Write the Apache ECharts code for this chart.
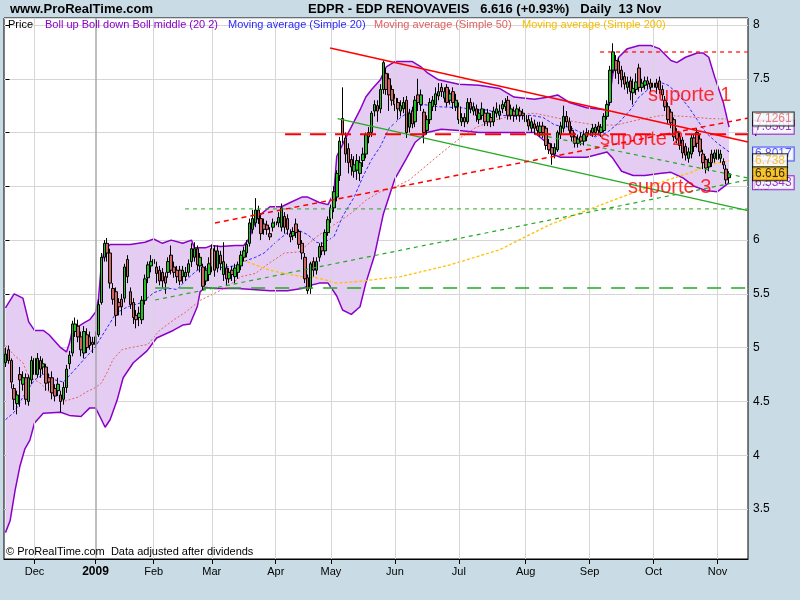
<!DOCTYPE html>
<html><head><meta charset="utf-8">
<script src="https://cdn.jsdelivr.net/npm/echarts@6.0.0/dist/echarts.min.js"></script>
<style>html,body{margin:0;padding:0;background:#C9DCE6;}#c{width:800px;height:600px;}</style>
</head><body><div id="c"></div>
<script>
// ---- candles (daily, 17 Nov 2008 .. 13 Nov 2009) ----
const opens = [
4.86,4.98,4.88,4.62,4.48,4.75,4.66,4.72,4.50,4.70,
4.75,4.75,4.88,4.82,4.82,4.72,4.72,4.62,4.60,4.56,
4.52,4.63,4.85,4.95,5.15,5.20,5.10,4.95,5.12,5.10,
5.05,5.03,5.12,5.42,5.84,5.97,5.88,5.55,5.52,5.42,
5.45,5.46,5.82,5.52,5.42,5.30,5.28,5.26,5.44,5.65,
5.76,5.78,5.75,5.72,5.70,5.66,5.70,5.86,5.75,5.72,
5.72,5.66,5.66,5.70,5.80,5.84,5.92,5.76,5.75,5.62,
5.68,5.92,5.90,5.74,5.86,5.68,5.74,5.64,5.72,5.66,
5.70,5.76,5.84,5.88,5.97,6.10,6.16,6.28,6.20,6.15,
6.14,6.06,6.12,6.14,6.16,6.12,6.22,6.20,6.06,6.04,
6.15,6.08,5.97,5.84,5.65,5.55,5.80,5.72,5.84,5.94,
5.90,6.07,6.20,6.30,6.40,6.60,7.13,6.95,6.85,6.75,
6.64,6.65,6.62,6.74,6.80,6.96,7.00,7.20,7.25,7.22,
7.40,7.55,7.50,7.40,7.32,7.28,7.20,7.22,7.30,7.05,
7.20,7.10,7.35,7.26,7.19,7.02,7.12,7.24,7.26,7.34,
7.42,7.32,7.42,7.30,7.38,7.24,7.24,7.10,7.14,7.10,
7.28,7.20,7.22,7.12,7.16,7.18,7.10,7.14,7.10,7.18,
7.16,7.22,7.24,7.30,7.16,7.20,7.16,7.20,7.18,7.16,
7.12,7.04,7.08,7.06,7.00,7.06,7.04,6.90,6.86,6.80,
6.84,6.98,7.04,7.15,7.10,7.02,6.96,6.90,6.96,6.92,
6.96,6.98,7.00,7.00,7.06,7.00,7.02,7.15,7.28,7.58,
7.67,7.66,7.58,7.52,7.42,7.48,7.37,7.40,7.60,7.42,
7.44,7.48,7.46,7.42,7.46,7.48,7.40,7.30,7.24,7.19,
7.12,7.00,6.96,6.93,6.87,6.76,6.80,6.95,7.00,6.94,
6.80,6.75,6.68,6.80,6.76,6.84,6.76,6.73,6.66,6.58];
const closes = [
4.94,4.88,4.68,4.52,4.56,4.70,4.72,4.52,4.72,4.88,
4.90,4.90,4.80,4.85,4.67,4.68,4.58,4.55,4.66,4.50,
4.63,4.80,4.93,5.22,5.22,5.10,4.98,5.15,5.00,5.02,
5.03,5.10,5.40,5.84,5.97,5.88,5.60,5.45,5.30,5.38,
5.38,5.75,5.66,5.40,5.28,5.26,5.32,5.44,5.64,5.77,
5.80,5.82,5.69,5.62,5.62,5.60,5.80,5.72,5.70,5.66,
5.62,5.72,5.70,5.78,5.92,5.92,5.77,5.84,5.57,5.72,
5.78,5.75,5.72,5.90,5.78,5.80,5.64,5.70,5.68,5.74,
5.77,5.86,5.90,5.96,6.16,6.20,6.28,6.20,6.06,6.10,
6.10,6.03,6.16,6.17,6.21,6.30,6.12,6.10,6.03,6.08,
6.07,5.96,5.88,5.64,5.53,5.78,5.72,5.80,5.94,5.90,
6.07,6.19,6.30,6.45,6.62,6.92,6.98,6.80,6.72,6.68,
6.70,6.74,6.72,6.80,6.98,7.00,7.18,7.26,7.20,7.40,
7.65,7.40,7.35,7.30,7.26,7.22,7.25,7.28,7.00,7.18,
7.08,7.30,7.28,7.35,7.00,7.12,7.28,7.30,7.36,7.38,
7.38,7.38,7.28,7.36,7.28,7.30,7.12,7.14,7.10,7.28,
7.22,7.24,7.16,7.18,7.22,7.10,7.18,7.10,7.20,7.22,
7.20,7.26,7.28,7.16,7.22,7.16,7.22,7.16,7.16,7.10,
7.06,7.10,7.04,7.02,7.06,7.00,6.88,6.84,6.80,6.86,
7.00,7.06,7.15,7.10,7.02,6.96,6.90,6.94,6.92,6.98,
7.00,7.02,7.04,7.05,7.02,7.05,7.15,7.26,7.58,7.75,
7.58,7.55,7.49,7.45,7.47,7.38,7.41,7.47,7.42,7.46,
7.48,7.45,7.42,7.46,7.42,7.40,7.35,7.24,7.12,7.09,
6.96,6.94,6.88,6.81,6.79,6.82,6.95,6.87,6.90,6.82,
6.72,6.67,6.72,6.72,6.81,6.75,6.80,6.70,6.56,6.616];
const lows = [
4.82,4.85,4.62,4.42,4.38,4.45,4.60,4.47,4.46,4.66,
4.70,4.72,4.72,4.75,4.60,4.60,4.52,4.50,4.55,4.40,
4.47,4.58,4.80,4.92,5.10,5.05,4.92,4.90,4.95,4.98,
4.95,5.00,5.10,5.40,5.80,5.80,5.55,5.40,5.20,5.30,
5.30,5.42,5.60,5.36,5.22,5.18,5.20,5.22,5.40,5.60,
5.70,5.72,5.60,5.58,5.55,5.50,5.65,5.68,5.65,5.60,
5.58,5.60,5.62,5.66,5.75,5.80,5.72,5.70,5.53,5.58,
5.62,5.70,5.66,5.70,5.72,5.62,5.58,5.60,5.62,5.60,
5.64,5.72,5.80,5.84,5.94,6.06,6.12,6.15,6.00,6.05,
6.05,6.00,6.08,6.10,6.12,6.08,6.06,6.05,5.98,6.00,
6.02,5.92,5.82,5.60,5.50,5.50,5.66,5.68,5.80,5.86,
5.86,6.04,6.16,6.26,6.36,6.55,6.90,6.72,6.62,6.60,
6.58,6.56,6.55,6.68,6.76,6.90,6.96,7.15,7.10,7.18,
7.36,7.35,7.20,7.25,7.20,7.12,7.15,7.18,6.95,7.00,
7.04,7.05,7.20,7.20,6.90,6.98,7.08,7.20,7.20,7.30,
7.33,7.28,7.24,7.26,7.22,7.20,7.08,7.06,7.05,7.08,
7.18,7.16,7.10,7.08,7.12,7.06,7.06,7.05,7.06,7.14,
7.12,7.18,7.20,7.12,7.12,7.10,7.12,7.10,7.12,7.06,
7.02,7.00,6.98,6.98,6.96,6.95,6.84,6.80,6.70,6.76,
6.82,6.94,7.00,7.05,6.98,6.92,6.86,6.86,6.88,6.88,
6.92,6.94,6.96,6.97,6.98,6.96,7.00,7.12,7.25,7.55,
7.50,7.45,7.42,7.40,7.36,7.30,7.26,7.35,7.38,7.38,
7.40,7.40,7.38,7.38,7.36,7.36,7.30,7.20,7.08,7.04,
6.92,6.90,6.84,6.76,6.74,6.72,6.76,6.82,6.86,6.78,
6.66,6.62,6.64,6.68,6.72,6.70,6.72,6.66,6.52,6.52];
const highs = [
5.00,5.02,4.90,4.66,4.60,4.82,4.78,4.76,4.75,4.92,
4.93,4.95,4.92,4.90,4.85,4.76,4.78,4.66,4.72,4.60,
4.68,4.84,4.97,5.25,5.28,5.26,5.15,5.20,5.18,5.15,
5.10,5.15,5.45,5.88,6.00,6.02,5.92,5.60,5.56,5.46,
5.50,5.78,5.86,5.56,5.46,5.35,5.38,5.48,5.68,5.80,
5.86,5.90,5.80,5.76,5.74,5.70,5.84,5.95,5.80,5.76,
5.76,5.76,5.75,5.82,5.97,5.98,5.95,5.88,5.78,5.76,
5.84,5.96,5.95,5.95,5.90,5.98,5.78,5.74,5.76,5.78,
5.80,5.90,5.94,6.00,6.20,6.28,6.39,6.32,6.25,6.20,
6.18,6.12,6.20,6.22,6.26,6.34,6.26,6.24,6.10,6.12,
6.20,6.10,6.00,5.88,5.68,5.80,5.84,5.84,5.97,5.98,
6.10,6.22,6.33,6.50,6.65,6.96,7.42,7.00,6.90,6.80,
6.78,6.80,6.78,6.86,7.00,7.05,7.20,7.30,7.30,7.45,
7.67,7.60,7.55,7.44,7.36,7.32,7.30,7.33,7.34,7.22,
7.24,7.34,7.50,7.40,7.22,7.16,7.32,7.34,7.42,7.46,
7.46,7.42,7.45,7.40,7.42,7.36,7.28,7.18,7.18,7.32,
7.32,7.28,7.26,7.22,7.28,7.22,7.22,7.18,7.24,7.28,
7.26,7.30,7.32,7.34,7.26,7.24,7.26,7.24,7.22,7.20,
7.16,7.14,7.12,7.10,7.10,7.10,7.06,6.94,6.90,6.90,
7.02,7.10,7.25,7.20,7.14,7.06,7.00,6.98,7.00,7.02,
7.04,7.06,7.08,7.08,7.10,7.08,7.18,7.30,7.62,7.83,
7.72,7.70,7.62,7.56,7.52,7.52,7.50,7.55,7.64,7.50,
7.52,7.52,7.50,7.50,7.50,7.52,7.44,7.34,7.28,7.22,
7.14,7.04,7.00,6.96,6.90,6.86,6.98,6.98,7.04,6.98,
6.84,6.78,6.76,6.84,6.84,6.88,6.84,6.76,6.70,6.64];

// ---- x axis: slot count and month labels ----
const slotCount = 256;
const monthIdx = [10, 31, 51, 71, 93, 112, 134, 156, 179, 201, 223, 245];
const monthLabels = ['Dec', '2009', 'Feb', 'Mar', 'Apr', 'May', 'Jun', 'Jul', 'Aug', 'Sep', 'Oct', 'Nov'];

// ---- indicators: [day index, value] ----
const bollUp = [[0,5.37],[3,5.50],[6,5.46],[8,5.24],[10,5.16],[13,5.16],[15,5.12],[19,5.00],[21,4.96],[22,5.04],[23,5.16],[27,5.23],[29,5.26],[31,5.33],[32,5.45],[33,5.78],[34,5.90],[36,5.96],[43,5.96],[48,5.98],[51,6.01],[54,5.97],[57,6.00],[61,5.97],[64,6.00],[65,5.93],[69,5.93],[71,5.95],[74,5.94],[79,5.95],[82,5.95],[84,6.02],[85,6.11],[87,6.22],[91,6.31],[95,6.31],[98,6.35],[102,6.40],[104,6.40],[108,6.35],[111,6.33],[113,6.44],[114,6.78],[118,7.00],[122,7.21],[124,7.33],[126,7.40],[129,7.49],[131,7.61],[134,7.66],[140,7.66],[143,7.61],[145,7.56],[149,7.49],[156,7.45],[163,7.44],[170,7.41],[175,7.33],[182,7.31],[187,7.33],[190,7.35],[194,7.28],[200,7.23],[207,7.21],[208,7.35],[209,7.55],[211,7.70],[214,7.78],[218,7.81],[222,7.81],[225,7.78],[229,7.67],[231,7.65],[234,7.70],[238,7.74],[240,7.74],[242,7.70],[244,7.52],[247,7.28],[249,7.05]];
const bollDn = [[0,3.28],[1.6,3.39],[3.3,3.67],[5,3.90],[6.7,4.06],[8.4,4.14],[10,4.30],[13,4.39],[19,4.40],[22,4.37],[26,4.36],[29,4.44],[31,4.44],[32.5,4.36],[34.3,4.26],[36,4.33],[38.4,4.51],[40.5,4.72],[44,4.86],[48.7,4.97],[52,5.09],[57.7,5.16],[61,5.21],[63.5,5.22],[66,5.38],[67,5.52],[69,5.56],[72,5.55],[80,5.55],[85,5.54],[91,5.53],[97,5.53],[102,5.55],[105,5.58],[108,5.60],[111,5.60],[114,5.48],[116,5.35],[119,5.31],[122,5.38],[124,5.60],[127,5.86],[130,6.24],[134,6.57],[138,6.76],[141,6.91],[145,7.00],[150,7.03],[156,7.02],[163,7.00],[170,7.00],[175,7.00],[182,7.00],[186,6.91],[188,6.80],[191,6.77],[195,6.77],[200,6.77],[207,6.82],[209,6.76],[212,6.64],[216,6.60],[220,6.60],[225,6.62],[229,6.63],[233,6.58],[237,6.50],[241,6.46],[245,6.45],[249,6.534]];
const sma20 = [[0,4.33],[3,4.40],[6,4.54],[10,4.70],[13,4.75],[14,4.77],[17,4.70],[20,4.68],[23,4.77],[27,4.89],[31,5.01],[33,5.10],[36,5.23],[38,5.32],[42,5.38],[47,5.42],[51,5.51],[54,5.54],[57,5.55],[59,5.54],[63,5.65],[66,5.72],[71,5.74],[76,5.75],[79,5.76],[82,5.80],[86,5.84],[89,5.88],[93,5.98],[97,6.07],[101,6.09],[104,6.05],[107,5.98],[109,5.97],[113,6.03],[116,6.22],[120,6.40],[123,6.59],[126,6.75],[129,6.87],[132,7.04],[136,7.14],[141,7.23],[144,7.26],[149,7.24],[157,7.23],[162,7.21],[166,7.21],[171,7.16],[175,7.15],[181,7.16],[185,7.14],[189,7.07],[194,7.05],[198,7.00],[203,6.96],[207,7.00],[211,7.09],[215,7.21],[218,7.33],[222,7.42],[225,7.47],[228,7.44],[231,7.37],[235,7.24],[238,7.12],[241,7.00],[245,6.90],[248,6.84],[249,6.82]];
const sma50 = [[0,5.02],[3,4.93],[6,4.86],[8,4.73],[12,4.67],[15,4.59],[19,4.53],[20,4.50],[25,4.54],[28,4.59],[31,4.63],[33,4.67],[35,4.77],[37,4.89],[40,4.98],[43,5.00],[49,5.03],[53,5.16],[58,5.26],[62,5.33],[67,5.44],[76,5.56],[81,5.66],[86,5.69],[91,5.79],[96,5.88],[101,5.89],[107,6.03],[114,6.16],[119,6.25],[124,6.37],[129,6.45],[133,6.48],[139,6.56],[150,6.81],[157,6.96],[162,7.05],[169,7.12],[175,7.16],[182,7.18],[189,7.14],[196,7.10],[203,7.07],[210,7.07],[218,7.12],[226,7.16],[234,7.15],[242,7.13],[249,7.126]];
const sma200 = [[80,5.83],[86,5.77],[91,5.72],[96,5.69],[102,5.66],[107,5.65],[114,5.60],[119,5.61],[123,5.62],[129,5.64],[136,5.66],[153,5.77],[170,5.91],[187,6.14],[209,6.37],[221,6.49],[228,6.56],[236,6.63],[242,6.70],[249,6.738]];

// ---- last values shown in the right-hand boxes ----
const lastBollUp = 7.05, lastSma50 = 7.1261, lastSma20 = 6.80, lastSma200 = 6.738, lastClose = 6.616, lastBollDn = 6.5343;

// ---- hand-drawn lines: [day index, price] end points ----
const trendRed = [[111.7,7.787],[255.5,6.912]];
const trendGreen = [[114.3,7.129],[255.5,6.275]];
const levelRed70 = [[96.2,6.985],[255.5,6.985]];
const levelRedTop = [[204.6,7.749],[255.5,7.749]];
const levelGreen63 = [[61.8,6.29],[255.5,6.29]];
const riseRed = [[72.1,6.159],[255.5,7.135]];
const levelGreen555 = [[51.5,5.555],[255.5,5.555]];
const riseGreen = [[51.5,5.443],[255.5,6.56]];
const descGreen = [[183.9,6.977],[255.5,6.577]];
const notes = [[221.1,7.349,'suporte 1'],[204.6,6.931,'suporte 2'],[214.2,6.485,'suporte 3']];

const FONT = 'Arial, "Liberation Sans", sans-serif';
const cats = [];
for (let i = 0; i < slotCount; i++) cats.push(String(i));
const candles = opens.map((o, i) => [o, closes[i], lows[i], highs[i]]);

function lineSeries(data, color, width, type, z) {
  return {type:'line', xAxisIndex:1, yAxisIndex:0, data:data, symbol:'none', silent:true, z:z||4,
    lineStyle:{color:color, width:width, type:type}, clip:true};
}
function boxSeries(v, text, color, bg, border, z) {
  return {type:'scatter', xAxisIndex:1, yAxisIndex:0, data:[[255.5, v]], symbolSize:0, silent:true, z:z, clip:false,
    label:{show:true, position:'right', distance:5, formatter:text, color:color, backgroundColor:bg,
      borderColor:border, borderWidth:1, padding:[1,2,0,2], fontSize:12, lineHeight:12, fontFamily:FONT}};
}

const chart = echarts.init(document.getElementById('c'), null, {renderer:'canvas'});
const option = {
  animation:false,
  backgroundColor:'#C9DCE6',
  textStyle:{fontFamily:FONT},
  grid:{left:4, top:18, right:52, bottom:41, show:true, backgroundColor:'#fff', borderColor:'#000', borderWidth:1},
  xAxis:[{
    type:'category', data:cats, boundaryGap:true,
    axisLine:{show:true, lineStyle:{color:'#000'}},
    axisTick:{show:true, alignWithLabel:true, length:5, lineStyle:{color:'#000'},
      interval:(i) => monthIdx.indexOf(i) >= 0},
    axisLabel:{show:true, color:'#000', fontSize:11, margin:7, fontFamily:FONT,
      interval:(i) => monthIdx.indexOf(i) >= 0,
      formatter:(v, i) => { const k = monthIdx.indexOf(Number(v)); if (k < 0) return ''; return k === 1 ? '{b|' + monthLabels[k] + '}' : monthLabels[k]; },
      rich:{b:{fontWeight:'bold', fontSize:12, color:'#000', fontFamily:FONT}}},
    splitLine:{show:false}
  },{
    type:'value', min:-0.5, max:slotCount - 0.5, show:false, splitLine:{show:false}
  }],
  yAxis:{
    type:'value', position:'right', min:3.035, max:8.065, splitNumber:10, minInterval:0.5, maxInterval:0.5,
    axisLine:{show:false}, axisTick:{show:true, length:4, lineStyle:{color:'#000'}},
    axisLabel:{color:'#000', fontSize:12, margin:5, showMinLabel:false, showMaxLabel:false, fontFamily:FONT},
    splitLine:{show:true, lineStyle:{color:'#D6D6D6', width:1}}
  },
  series:[
    {type:'line', xAxisIndex:1, yAxisIndex:0, data:[[-5,0]], symbol:'none', silent:true, z:1,
      lineStyle:{width:0},
      markLine:{silent:true, symbol:['none','none'], label:{show:false},
        data: monthIdx.map((m, k) => ({xAxis:m, lineStyle:{color: k === 1 ? '#A8A8A8' : '#D6D6D6', width: k === 1 ? 1.5 : 1, type:'solid'}}))}},
    {type:'custom', xAxisIndex:1, yAxisIndex:0, data:[[0, 5]], silent:true, z:2,
      renderItem:function(params, api){
        const pts = [];
        for (let k = 0; k < bollUp.length; k++) pts.push(api.coord(bollUp[k]));
        for (let k = bollDn.length - 1; k >= 0; k--) pts.push(api.coord(bollDn[k]));
        return {type:'polygon', shape:{points:pts}, style:{fill:'#E5CCF2', stroke:null}};
      }},
    lineSeries(bollUp, '#8A00C8', 1.5, 'solid', 3),
    lineSeries(bollDn, '#8A00C8', 1.5, 'solid', 3),
    lineSeries(sma20, '#2A2AFF', 1, [3,2], 3),
    lineSeries(sma50, '#E06262', 1, [2,2], 3),
    lineSeries(sma200, '#FFC000', 1.3, [3,2], 3),
    {type:'candlestick', xAxisIndex:0, yAxisIndex:0, data:candles, barWidth:3, silent:true, z:4,
      itemStyle:{color:'#22C022', color0:'#D06464', borderColor:'#000', borderColor0:'#000', borderWidth:1}},
    lineSeries(levelGreen555, '#22AA22', 1.5, [14,10], 5),
    lineSeries(levelGreen63, '#22AA22', 1, [4,4], 5),
    lineSeries(riseGreen, '#22AA22', 1.2, [4,4], 5),
    lineSeries(descGreen, '#22AA22', 1.2, [4,4], 5),
    lineSeries(trendGreen, '#22AA22', 1.3, 'solid', 5),
    lineSeries(riseRed, '#FF0000', 1.5, [5,4], 5),
    lineSeries(levelRedTop, '#FF0000', 1.2, [4,4], 5),
    lineSeries(levelRed70, '#FF0000', 2, [16,9], 5),
    lineSeries(trendRed, '#FF0000', 1.5, 'solid', 5),
    {type:'scatter', xAxisIndex:1, yAxisIndex:0, data:notes, symbolSize:0, silent:true, z:6, clip:false,
      label:{show:true, position:'right', distance:0, formatter:(p) => p.data[2], color:'#FF0000', fontSize:20, fontFamily:FONT}},
    boxSeries(lastBollUp, '7.0501', '#8A00C8', '#fff', '#8A00C8', 10),
    boxSeries(lastSma50, '7.1261', '#E06262', '#fff', '#000', 11),
    boxSeries(lastSma20, '6.8017', '#2A2AFF', '#fff', '#2A2AFF', 12),
    boxSeries(lastBollDn, '6.5343', '#8A00C8', '#fff', '#8A00C8', 13),
    boxSeries(lastSma200, '6.738', '#FFB000', '#fff', '#000', 14),
    boxSeries(lastClose, '6.616', '#000', '#FFC000', '#000', 15)
  ],
  graphic:[
    {type:'text', x:10, y:9, z:100, style:{text:'www.ProRealTime.com', fill:'#000', font:'bold 13px ' + FONT, verticalAlign:'middle'}},
    {type:'text', x:308, y:9, z:100, style:{text:'EDPR - EDP RENOVAVEIS   6.616 (+0.93%)   Daily  13 Nov', fill:'#000', font:'bold 13px ' + FONT, verticalAlign:'middle'}},
    {type:'text', x:8, y:25, z:100, style:{text:'Price', fill:'#000', font:'11px ' + FONT, verticalAlign:'middle'}},
    {type:'text', x:45, y:25, z:100, style:{text:'Boll up Boll down Boll middle (20 2)', fill:'#8A00C8', font:'11px ' + FONT, verticalAlign:'middle'}},
    {type:'text', x:228, y:25, z:100, style:{text:'Moving average (Simple 20)', fill:'#2A2AFF', font:'11px ' + FONT, verticalAlign:'middle'}},
    {type:'text', x:374, y:25, z:100, style:{text:'Moving average (Simple 50)', fill:'#E06262', font:'11px ' + FONT, verticalAlign:'middle'}},
    {type:'text', x:522, y:25, z:100, style:{text:'Moving average (Simple 200)', fill:'#F5BE00', font:'11px ' + FONT, verticalAlign:'middle'}},
    {type:'text', x:6, y:552, z:100, style:{text:'\u00A9 ProRealTime.com  Data adjusted after dividends', fill:'#000', font:'11px ' + FONT, verticalAlign:'middle'}}
  ]
};
chart.setOption(option);
</script></body></html>
